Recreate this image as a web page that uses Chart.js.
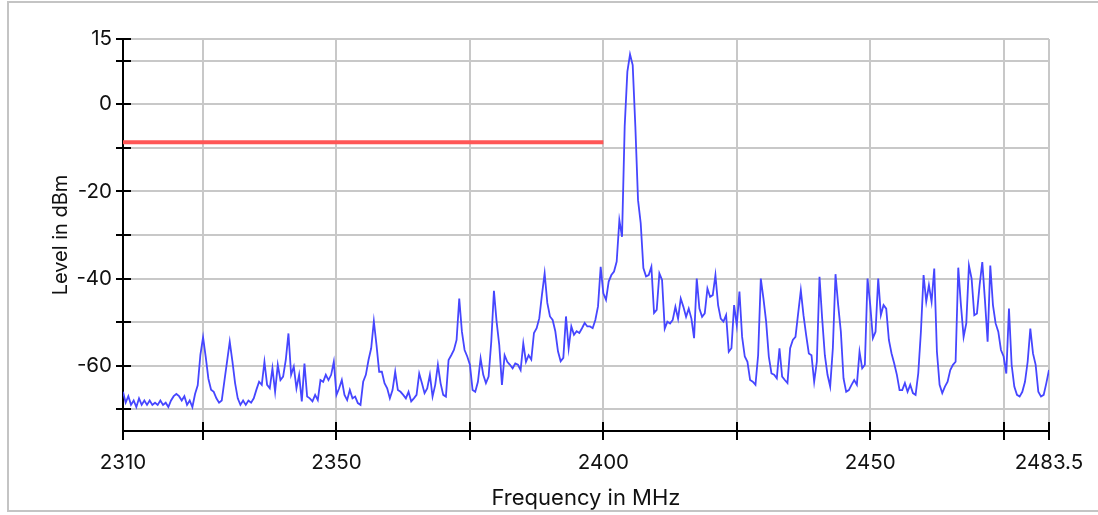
<!DOCTYPE html>
<html lang="en">
<head>
  <meta charset="UTF-8" />
  <title>Spectrum 2310 - 2483.5 MHz</title>
  <script src="https://cdn.jsdelivr.net/npm/chart.js"></script>
  <style>
    body {
      margin: 0;
      background: #fff;
    }

    #frame {
      position: absolute;
      left: 7px;
      top: 1px;
      width: 1200px;
      height: 511px;
      box-sizing: border-box;
      border: 2px solid #c4c4c4;
      border-right: none;
    }

    #specChart {
      position: absolute;
      left: 0;
      top: 0;
    }
  </style>
</head>

<body>
  <div id="frame"></div>
  <canvas id="specChart" width="1098" height="515"></canvas>

  <script>
    // sweep: 2310 .. 2483.5 MHz, one reading every 0.5 MHz
    const freqStart = 2310;
    const freqStep = 0.5;

    // level in dBm per sweep point
    const levels = [
      // 2310 - 2335
      -66, -68.5, -67, -69, -68, -69.5, -67.5, -69, -68, -69,
      -68, -69, -68.5, -69, -68, -69, -68.5, -69.5, -68, -67,
      -66.5, -67, -68, -67, -69, -68, -69.5, -66.5, -64.5, -57.5,
      -53.5, -58, -63, -65.5, -66, -67.5, -68.5, -68, -63.5, -59,
      -54.5, -59, -64, -67.5, -69, -68, -69, -68, -68.5, -67.5,
      -65.5,
      // 2335.5 - 2360.5
      -63.7, -64.4, -59.1, -64.4, -65.2, -60.6, -66, -59.8, -63.3, -62.5,
      -58.7, -52.6, -62.1, -60.2, -65.2, -62.1, -68.2, -59.5, -67.1, -67.5,
      -68.2, -66.7, -67.9, -63.3, -63.7, -62.1, -63.3, -62.1, -59.1, -66.7,
      -65.2, -63.3, -66.7, -67.9, -65.6, -67.5, -67.1, -68.6, -69, -63.7,
      -62.1, -58.7, -56, -49.8, -55.3, -61.4, -61.4, -64, -65.2, -67.5,
      -65.6,
      // 2361 - 2386
      -61.4, -65.6, -66, -66.7, -67.5, -66, -68.2, -67.5, -66.7, -61.8,
      -64, -66.3, -65.2, -62.1, -67.1, -64.4, -59.8, -64, -66.7, -67.1,
      -58.7, -57.6, -56.4, -54.1, -44.6, -52.2, -56.4, -57.9, -59.8, -65.6,
      -66, -63.7, -58.3, -62.1, -64, -62.5, -54.5, -42.8, -49.9, -55.3,
      -64.4, -57.6, -59.1, -59.8, -60.6, -59.5, -59.8, -61, -54.9, -59.1,
      -57.6,
      // 2386.5 - 2411
      -58.6, -52.5, -51.4, -49.1, -43.7, -38.8, -45.6, -48.7, -49.5, -52.1,
      -56.7, -59, -58.2, -48.7, -56, -51, -52.9, -52.1, -52.5, -51.4,
      -50.2, -51, -51, -51.4, -49.5, -46.4, -37.3, -43.4, -44.9, -40.7,
      -39.2, -38.4, -36.1, -26.6, -30.4, -5, 7.5, 11.5, 9, -5.2,
      -22, -27.3, -37.6, -39.5, -39.2, -37.3, -47.9, -47.2, -38.8, -40.3,
      // 2411.5 - 2436.5
      -51.5, -49.9, -50.3, -49.5, -46.5, -49.2, -44.6, -46.5, -48.8, -46.9,
      -49.2, -53.7, -40, -46.9, -48.8, -48, -42.3, -44.2, -43.8, -39.2,
      -46.1, -49.2, -49.9, -48.4, -56.8, -56, -46.1, -50.7, -43, -53.4,
      -57.9, -59.1, -63.3, -63.7, -64.4, -57.6, -40, -44.6, -49.9, -57.9,
      -61.8, -62.1, -62.9, -56, -62.5, -63.3, -64, -56, -54.1, -53.4,
      -48,
      // 2437 - 2462
      -42.7, -48.4, -53, -57.2, -57.6, -63.7, -59.1, -39.6, -49.2, -57.6,
      -62.1, -64.8, -56, -39, -46.1, -52.2, -62.9, -66, -65.6, -64.4,
      -63.3, -64.4, -56.8, -60.6, -59.8, -40, -46, -53.7, -52.2, -40,
      -48.4, -46.1, -46.9, -54.1, -57.2, -59.5, -62.1, -65.6, -65.6, -64,
      -66, -64.4, -66.3, -66.7, -61.8, -52.2, -39.2, -45.3, -41.5, -45.3,
      -37.7,
      // 2462.5 - 2483.5
      -56.8, -64.4, -66.3, -64.8, -63.7, -61, -59.8, -59.1, -37.5, -46.1,
      -53.4, -50.3, -37, -40, -48.4, -48, -41.5, -36.2, -45, -54.5,
      -37, -46.1, -50.3, -52.2, -56.4, -57.9, -61.8, -46.9, -59.8, -64.8,
      -66.7, -67.1, -66, -63.7, -59.1, -51.5, -57.2, -59.8, -66, -67.1,
      -66.7, -64, -61
    ];

    // limit line
    const limitFreqs = [2310, 2400];
    const limitLevel = -8.7;

    // axes
    const xTickValues = [2310, 2325, 2350, 2375, 2400, 2425, 2450, 2475, 2483.5];
    const xTickLabels = [2310, 2350, 2400, 2450, 2483.5];
    const yTickValues = [15, 10, 0, -10, -20, -30, -40, -50, -60, -70];
    const yTickLabels = [15, 0, -20, -40, -60];

    const spectrum = levels.map((v, i) => ({ x: freqStart + i * freqStep, y: v }));
    const limit = limitFreqs.map(f => ({ x: f, y: limitLevel }));

    const fontFamily = "Inter, 'Liberation Sans', Arial, sans-serif";

    // short black tick marks on the inner side of both axes
    const innerTicks = {
      id: 'innerTicks',
      beforeDatasetsDraw(chart) {
        const { ctx, chartArea, scales } = chart;
        ctx.save();
        ctx.strokeStyle = '#000';
        ctx.lineWidth = 2;
        ctx.beginPath();
        scales.y.ticks.forEach(t => {
          const py = Math.round(scales.y.getPixelForValue(t.value));
          ctx.moveTo(chartArea.left, py);
          ctx.lineTo(chartArea.left + 8, py);
        });
        scales.x.ticks.forEach(t => {
          const px = Math.round(scales.x.getPixelForValue(t.value));
          ctx.moveTo(px, chartArea.bottom);
          ctx.lineTo(px, chartArea.bottom - 9);
        });
        ctx.stroke();
        ctx.restore();
      }
    };

    new Chart(document.getElementById('specChart'), {
      type: 'line',
      data: {
        datasets: [
          {
            label: 'Level',
            data: spectrum,
            borderColor: '#4646ff',
            borderWidth: 1.8,
            pointRadius: 0,
            tension: 0,
            fill: false
          },
          {
            label: 'Limit',
            data: limit,
            borderColor: '#ff5656',
            borderWidth: 4,
            pointRadius: 0,
            fill: false
          }
        ]
      },
      options: {
        responsive: false,
        animation: false,
        parsing: false,
        layout: { padding: { left: 0, top: 39, right: 49, bottom: 0 } },
        plugins: {
          legend: { display: false },
          tooltip: { enabled: false }
        },
        scales: {
          x: {
            type: 'linear',
            min: 2310,
            max: 2483.5,
            afterBuildTicks: s => { s.ticks = xTickValues.map(v => ({ value: v })); },
            afterFit: s => { s.height = 84; },
            ticks: {
              autoSkip: false,
              maxRotation: 0,
              padding: 11,
              color: '#111',
              font: { family: fontFamily, size: 20.5 },
              callback: v => xTickLabels.includes(v) ? String(v) : ''
            },
            grid: {
              color: '#c8c8c8',
              lineWidth: 2,
              tickColor: '#000',
              tickLength: 9,
              tickWidth: 2
            },
            border: { color: '#000', width: 2 },
            title: {
              display: true,
              text: 'Frequency in MHz',
              color: '#111',
              font: { family: fontFamily, size: 22 },
              padding: { top: 0, bottom: 3 }
            }
          },
          y: {
            min: -75,
            max: 15,
            afterBuildTicks: s => { s.ticks = yTickValues.map(v => ({ value: v })); },
            afterFit: s => { s.width = 123; },
            ticks: {
              autoSkip: false,
              padding: 4,
              color: '#111',
              font: { family: fontFamily, size: 20.5 },
              callback: v => yTickLabels.includes(v) ? String(v) : ''
            },
            grid: {
              color: '#c8c8c8',
              lineWidth: 2,
              tickColor: '#000',
              tickLength: 7,
              tickWidth: 2
            },
            border: { color: '#000', width: 2 },
            title: {
              display: true,
              text: 'Level in dBm',
              color: '#111',
              font: { family: fontFamily, size: 20 },
              padding: { top: 49, bottom: 0 }
            }
          }
        }
      },
      plugins: [innerTicks]
    });
  </script>
</body>
</html>
